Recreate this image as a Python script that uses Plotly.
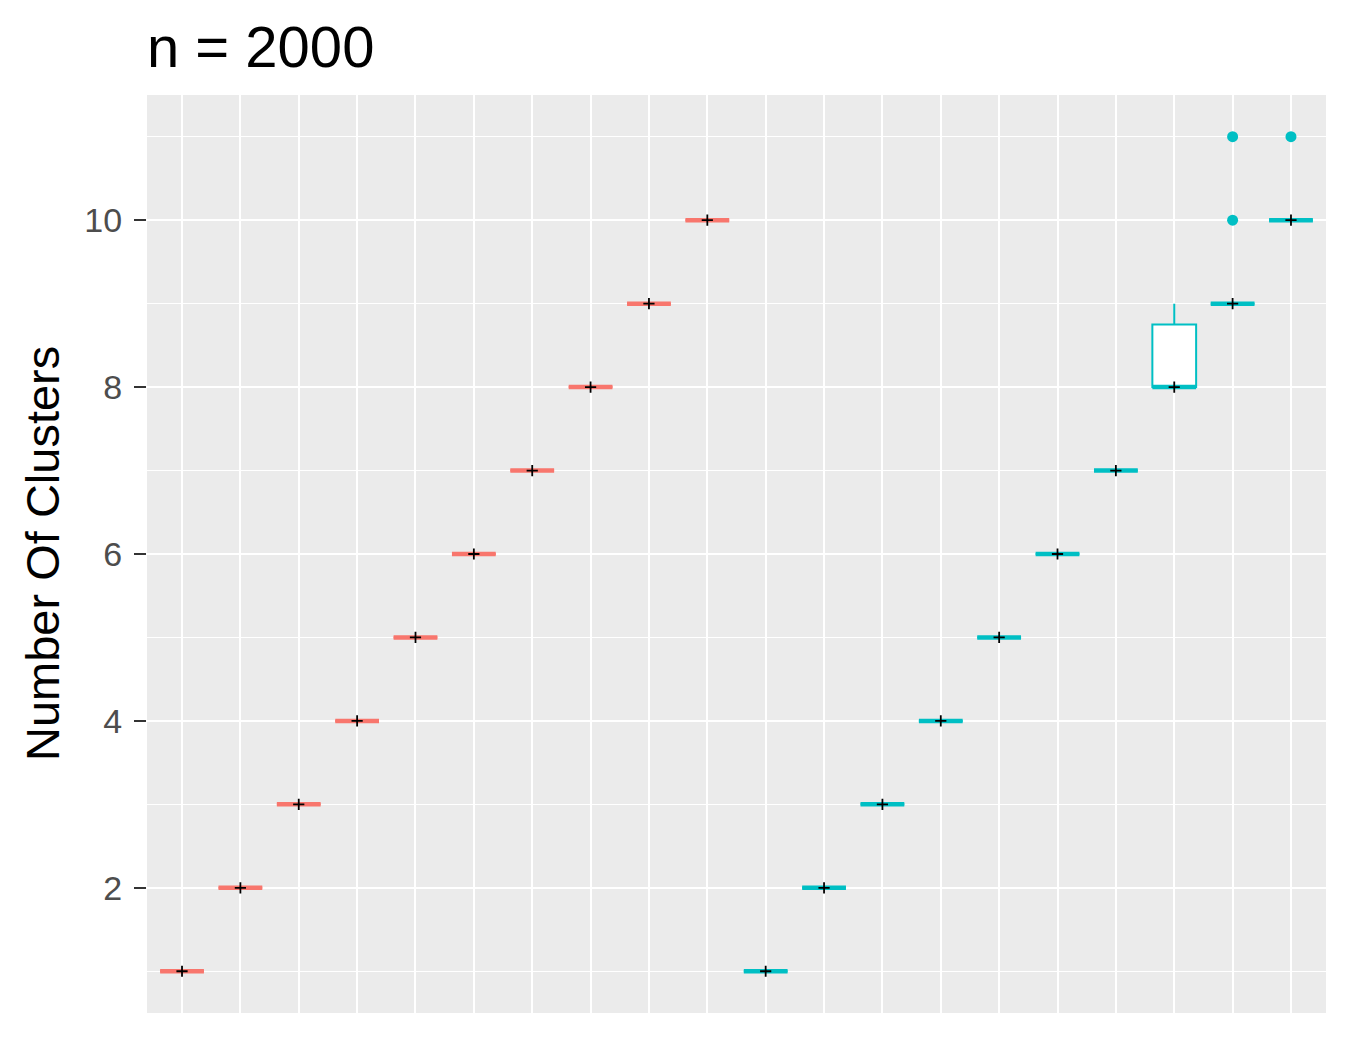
import plotly.graph_objects as go

# ---- data ----
red_pos = [1, 2, 3, 4, 5, 6, 7, 8, 9, 10]
red_q1 = [1, 2, 3, 4, 5, 6, 7, 8, 9, 10]
red_median = [1, 2, 3, 4, 5, 6, 7, 8, 9, 10]
red_q3 = [1, 2, 3, 4, 5, 6, 7, 8, 9, 10]
red_lower = [1, 2, 3, 4, 5, 6, 7, 8, 9, 10]
red_upper = [1, 2, 3, 4, 5, 6, 7, 8, 9, 10]

teal_pos = [11, 12, 13, 14, 15, 16, 17, 18, 19, 20]
teal_q1 = [1, 2, 3, 4, 5, 6, 7, 8, 9, 10]
teal_median = [1, 2, 3, 4, 5, 6, 7, 8, 9, 10]
teal_q3 = [1, 2, 3, 4, 5, 6, 7, 8.75, 9, 10]
teal_lower = [1, 2, 3, 4, 5, 6, 7, 8, 9, 10]
teal_upper = [1, 2, 3, 4, 5, 6, 7, 9, 9, 10]

outlier_pos = [19, 19, 20]
outlier_val = [10, 11, 11]

y_ticks = [2, 4, 6, 8, 10]
title_text = "n = 2000"
y_title = "Number Of Clusters"

RED = "#F8766D"
TEAL = "#00BFC4"
BOX_W = 0.75

fig = go.Figure()


def add_group(pos, q1, med, q3, lo, hi, color):
    fig.add_trace(go.Box(
        x=pos, q1=q1, median=med, q3=q3, lowerfence=lo, upperfence=hi,
        width=BOX_W, whiskerwidth=0, fillcolor="white",
        line=dict(color=color, width=2),
        boxpoints=False, showlegend=False, hoverinfo="skip",
    ))
    # thick median segments
    xs, ys = [], []
    for p, m in zip(pos, med):
        xs += [p - BOX_W / 2, p + BOX_W / 2, None]
        ys += [m, m, None]
    fig.add_trace(go.Scatter(
        x=xs, y=ys, mode="lines", line=dict(color=color, width=4.5),
        showlegend=False, hoverinfo="skip",
    ))


add_group(red_pos, red_q1, red_median, red_q3, red_lower, red_upper, RED)
add_group(teal_pos, teal_q1, teal_median, teal_q3, teal_lower, teal_upper, TEAL)

# outliers
fig.add_trace(go.Scatter(
    x=outlier_pos, y=outlier_val, mode="markers",
    marker=dict(color=TEAL, size=11, line=dict(width=0)),
    showlegend=False, hoverinfo="skip",
))

# centre "+" markers
fig.add_trace(go.Scatter(
    x=red_pos + teal_pos, y=red_median + teal_median, mode="markers",
    marker=dict(symbol="cross-thin", size=8, line=dict(color="black", width=1.8)),
    showlegend=False, hoverinfo="skip",
))

FONT = "Liberation Sans, Arial, Helvetica, sans-serif"

fig.update_layout(
    width=1350, height=1050,
    margin=dict(l=147, r=24, t=95, b=37),
    paper_bgcolor="white", plot_bgcolor="#EBEBEB",
    font=dict(family=FONT),
    title=dict(text=title_text, x=147 / 1350, xanchor="left", xref="container",
               y=1 - 47 / 1050, yanchor="middle", yref="container",
               font=dict(size=58, color="black", family=FONT)),
    xaxis=dict(range=[0.4, 20.6], tickvals=red_pos + teal_pos, showticklabels=False,
               ticks="", showgrid=True, gridcolor="white", gridwidth=2,
               zeroline=False, showline=False),
    yaxis=dict(range=[0.5, 11.5], tickvals=y_ticks, ticks="outside", ticklen=12,
               tickwidth=2, tickcolor="#333333", ticklabelstandoff=5,
               tickfont=dict(size=34, color="#4D4D4D", family=FONT),
               showgrid=True, gridcolor="white", gridwidth=2, zeroline=False,
               showline=False,
               minor=dict(tickvals=[1, 3, 5, 7, 9, 11], showgrid=True,
                          gridcolor="white", gridwidth=1, ticks="")),
    annotations=[dict(text=y_title, xref="paper", yref="paper",
                      x=(42 - 147) / 1179, y=0.5, xanchor="center", yanchor="middle",
                      textangle=-90, showarrow=False,
                      font=dict(size=47, color="black", family=FONT))],
)

fig.write_html("out.html")
